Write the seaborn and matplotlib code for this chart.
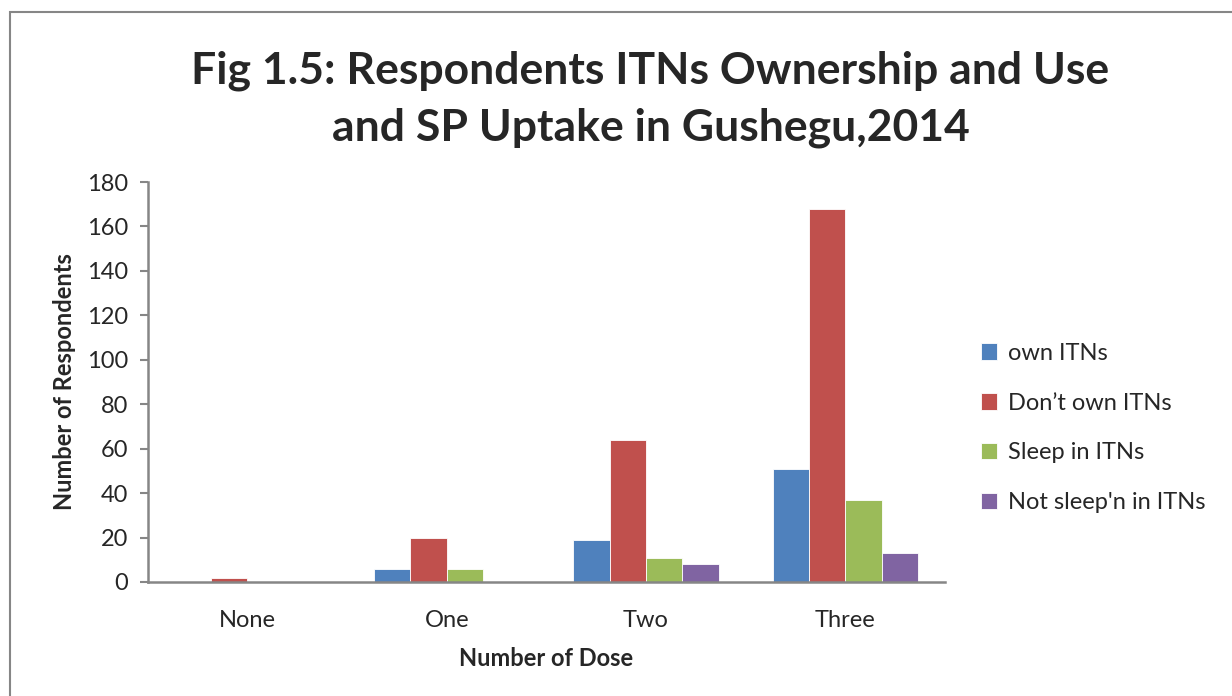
import matplotlib
matplotlib.use("Agg")
import matplotlib.pyplot as plt
import seaborn as sns
import pandas as pd
from matplotlib.patches import Rectangle

categories = ["None", "One", "Two", "Three"]
series_names = ["own ITNs", "Don\u2019t own ITNs", "Sleep in ITNs", "Not sleep'n in ITNs"]
own_itns = [0, 6, 19, 51]
dont_own_itns = [2, 20, 64, 168]
sleep_in_itns = [0, 6, 11, 37]
not_sleep_in_itns = [0, 0, 8, 13]
colors = ["#4F81BD", "#C0504D", "#9BBB59", "#8064A2"]
y_ticks = [0, 20, 40, 60, 80, 100, 120, 140, 160, 180]

rows = []
for name, vals in zip(series_names, [own_itns, dont_own_itns, sleep_in_itns, not_sleep_in_itns]):
    for c, v in zip(categories, vals):
        rows.append({"Dose": c, "Series": name, "Value": v})
df = pd.DataFrame(rows)

sns.set_theme(style="white")
plt.rcParams["font.family"] = ["Lato", "DejaVu Sans"]

fig = plt.figure(figsize=(12.32, 6.96), dpi=100)
ax = fig.add_axes([0.120, 0.1638, 0.647, 0.5747])

sns.barplot(data=df, x="Dose", y="Value", hue="Series", order=categories,
            hue_order=series_names, palette=colors, width=0.73, saturation=1,
            edgecolor="white", linewidth=0.6, errorbar=None, ax=ax)

ax.set_ylim(0, 180)
ax.set_yticks(y_ticks)
ax.set_xlim(-0.5, 3.5)
ax.tick_params(axis="y", labelsize=17, length=6, width=1.5, color="#868686",
               left=True, direction="out", pad=8)
ax.tick_params(axis="x", labelsize=17, length=0, pad=20)
for s in ["top", "right"]:
    ax.spines[s].set_visible(False)
for s in ["left", "bottom"]:
    ax.spines[s].set_color("#868686")
    ax.spines[s].set_linewidth(1.8)

ax.set_xlabel("Number of Dose", fontsize=17, fontweight="bold", labelpad=12)
ax.set_ylabel("Number of Respondents", fontsize=17, fontweight="bold", labelpad=8)

leg = ax.legend(loc="center left", bbox_to_anchor=(1.018, 0.385), frameon=False,
                fontsize=17, handlelength=0.7, handleheight=0.7,
                handletextpad=0.45, labelspacing=1.22)

fig.text(0.528, 0.858, "Fig 1.5: Respondents ITNs Ownership and Use\nand SP Uptake in Gushegu,2014",
         ha="center", va="center", fontsize=32, fontweight="bold", linespacing=1.5)

fig.patches.append(Rectangle((10 / 1232, -0.1), 1.2, (696 - 12) / 696 + 0.1,
                             transform=fig.transFigure, fill=False,
                             edgecolor="#868686", linewidth=1.5))

fig.savefig("out.png", dpi=100)
